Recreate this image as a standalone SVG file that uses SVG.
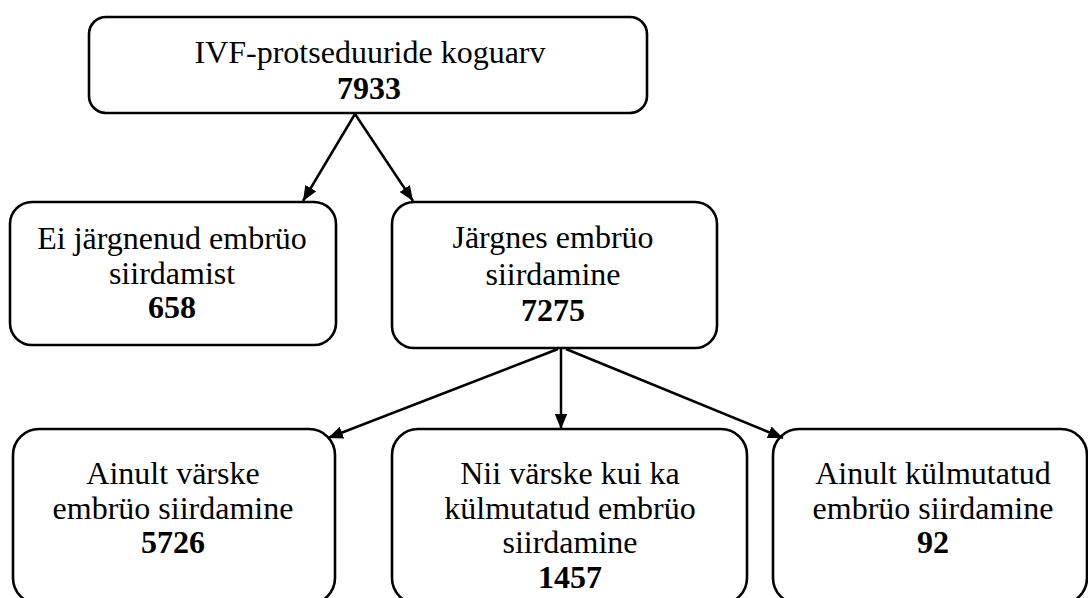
<svg xmlns="http://www.w3.org/2000/svg" width="1088" height="598" viewBox="0 0 1088 598">
<defs>
<style>
.box{fill:#fff;stroke:#000;stroke-width:2.6}
.t{font-family:"Liberation Serif","Times New Roman",serif;font-size:32px;fill:#000;text-anchor:middle}
.b{font-weight:bold}
.c{stroke:#000;stroke-width:2.5;fill:none;marker-end:url(#ah)}
</style>
<marker id="ah" viewBox="0 0 12 10" refX="12" refY="5" markerWidth="6" markerHeight="5" markerUnits="strokeWidth" orient="auto">
<path d="M0,0 L12,5 L0,10 z" fill="#000"/>
</marker>
</defs>
<rect width="1088" height="598" fill="#fff"/>
<g id="n-total">
<rect class="box" x="89" y="17" width="558" height="96" rx="17"/>
<text class="t" x="370" y="63">IVF-protseduuride koguarv</text>
<text class="t b" x="369" y="99">7933</text>
</g>
<g id="n-no-transfer">
<rect class="box" x="10" y="202" width="326" height="143" rx="22"/>
<text class="t" x="172" y="249">Ei järgnenud embrüo</text>
<text class="t" x="172" y="284">siirdamist</text>
<text class="t b" x="172" y="318">658</text>
</g>
<g id="n-transfer">
<rect class="box" x="392" y="202" width="325" height="146" rx="22"/>
<text class="t" x="553" y="248">Järgnes embrüo</text>
<text class="t" x="553" y="285">siirdamine</text>
<text class="t b" x="553" y="321">7275</text>
</g>
<g id="n-fresh">
<rect class="box" x="13" y="429" width="322" height="175" rx="26"/>
<text class="t" x="173" y="484">Ainult värske</text>
<text class="t" x="173" y="519">embrüo siirdamine</text>
<text class="t b" x="173" y="553">5726</text>
</g>
<g id="n-both">
<rect class="box" x="392" y="429" width="355" height="175" rx="26"/>
<text class="t" x="570" y="484">Nii värske kui ka</text>
<text class="t" x="570" y="519">külmutatud embrüo</text>
<text class="t" x="570" y="553">siirdamine</text>
<text class="t b" x="570" y="588">1457</text>
</g>
<g id="n-frozen">
<rect class="box" x="773" y="429" width="314" height="175" rx="26"/>
<text class="t" x="933" y="484">Ainult külmutatud</text>
<text class="t" x="933" y="519">embrüo siirdamine</text>
<text class="t b" x="933" y="553">92</text>
</g>
<g id="connectors">
<line class="c" x1="355" y1="114" x2="303" y2="201"/>
<line class="c" x1="355" y1="114" x2="413" y2="201"/>
<line class="c" x1="558" y1="349" x2="328" y2="438"/>
<line class="c" x1="561" y1="349" x2="561" y2="429"/>
<line class="c" x1="566" y1="349" x2="783" y2="438"/>
</g>
</svg>
